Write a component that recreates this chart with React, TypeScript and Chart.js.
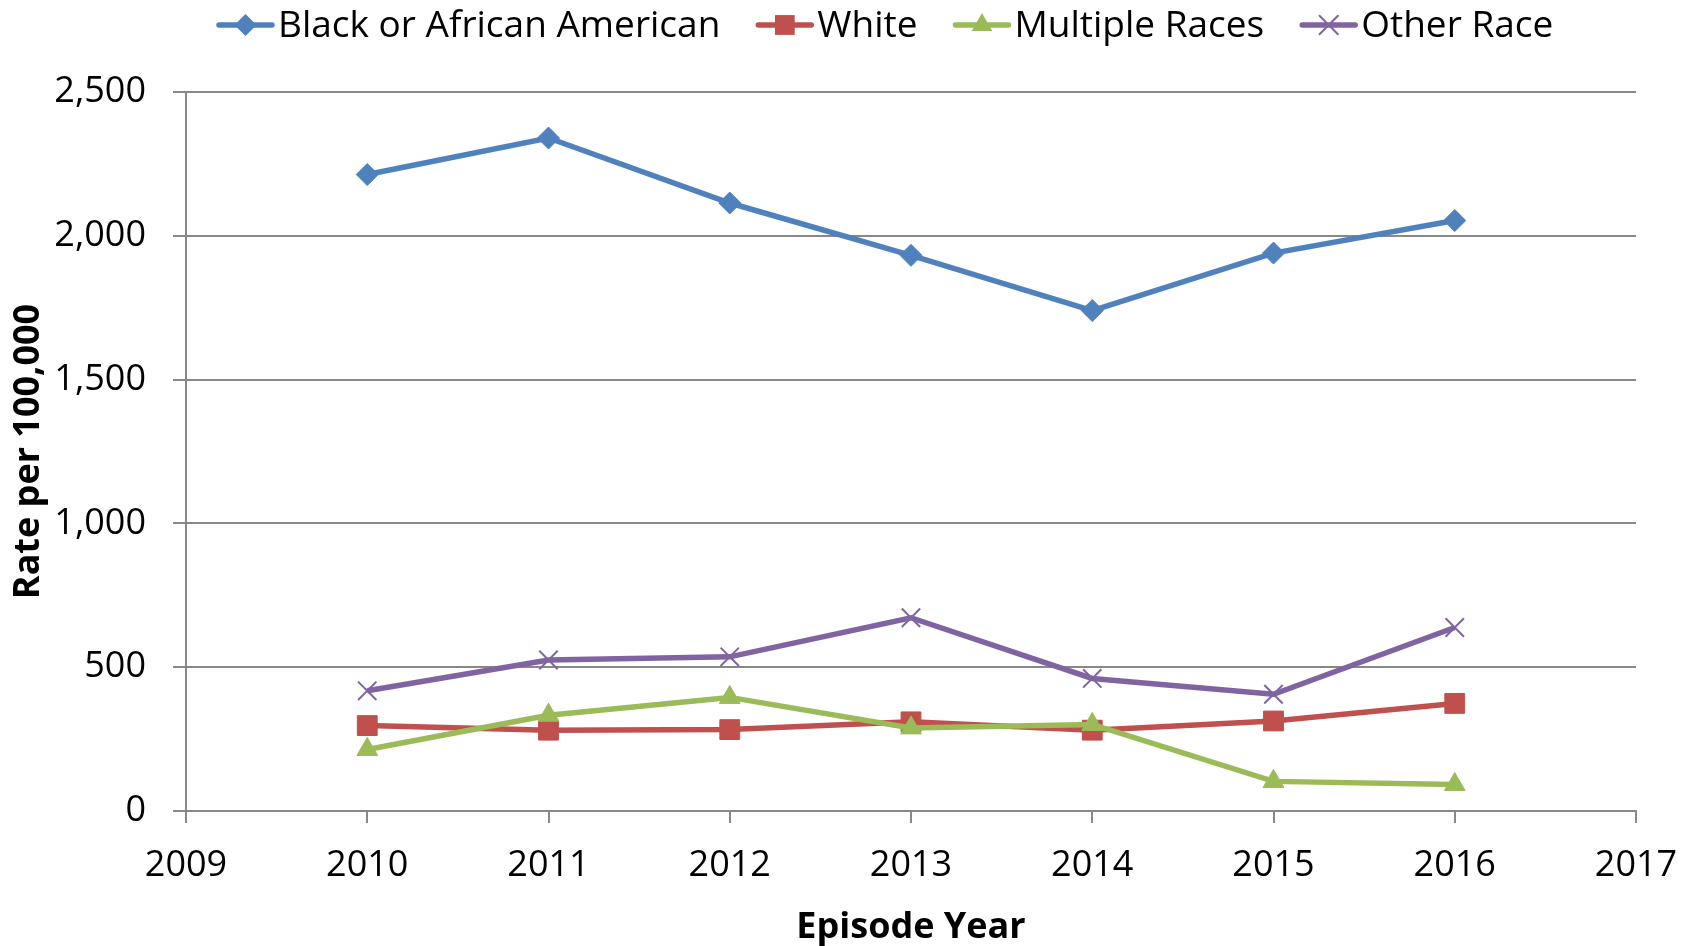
import React, { useEffect, useRef } from 'react';
import { Chart, registerables } from 'chart.js';

Chart.register(...registerables);

const years = [2010, 2011, 2012, 2013, 2014, 2015, 2016];
const seriesNames = ['Black or African American', 'White', 'Multiple Races', 'Other Race'];
const blackValues = [2213, 2340, 2114, 1932, 1740, 1940, 2053];
const whiteValues = [297, 281, 283, 310, 281, 313, 374];
const multipleValues = [214, 333, 395, 289, 301, 103, 92];
const otherValues = [418, 525, 536, 672, 461, 406, 638];
const xTickValues = [2009, 2010, 2011, 2012, 2013, 2014, 2015, 2016, 2017];
const yTickValues = [0, 500, 1000, 1500, 2000, 2500];

const colors = ['#4F81BD', '#C0504D', '#9BBB59', '#8064A2'];
const markers = ['rectRot', 'rect', 'triangle', 'crossRot'];
const markerRadius = [11, 14, 12, 13];

const FONT = "'Open Sans', 'Noto Sans', sans-serif";
const W = 1692;
const H = 946;

function drawMarker(ctx: CanvasRenderingContext2D, style: string, x: number, y: number, r: number, color: string) {
  ctx.save();
  ctx.fillStyle = color;
  ctx.strokeStyle = color;
  ctx.lineWidth = 2;
  ctx.beginPath();
  if (style === 'rectRot') {
    ctx.moveTo(x, y - r);
    ctx.lineTo(x + r, y);
    ctx.lineTo(x, y + r);
    ctx.lineTo(x - r, y);
    ctx.closePath();
    ctx.fill();
  } else if (style === 'rect') {
    const s = Math.SQRT1_2 * r;
    ctx.rect(x - s, y - s, 2 * s, 2 * s);
    ctx.fill();
  } else if (style === 'triangle') {
    const h = r * Math.sqrt(3) / 2;
    ctx.moveTo(x, y - r);
    ctx.lineTo(x + h, y + r / 2);
    ctx.lineTo(x - h, y + r / 2);
    ctx.closePath();
    ctx.fill();
  } else {
    const o = Math.SQRT1_2 * r;
    ctx.moveTo(x - o, y - o);
    ctx.lineTo(x + o, y + o);
    ctx.moveTo(x + o, y - o);
    ctx.lineTo(x - o, y + o);
    ctx.stroke();
  }
  ctx.restore();
}

const legendPlugin = {
  id: 'excelLegend',
  afterDraw(chart: any) {
    const ctx: CanvasRenderingContext2D = chart.ctx;
    ctx.save();
    ctx.font = `37px ${FONT}`;
    ctx.textBaseline = 'middle';
    ctx.textAlign = 'left';
    let x = 219;
    const y = 25;
    seriesNames.forEach((name, i) => {
      ctx.strokeStyle = colors[i];
      ctx.lineWidth = 5.5;
      ctx.lineCap = 'round';
      ctx.beginPath();
      ctx.moveTo(x, y);
      ctx.lineTo(x + 53, y);
      ctx.stroke();
      drawMarker(ctx, markers[i], x + 26.5, y, markerRadius[i], colors[i]);
      ctx.fillStyle = '#000';
      ctx.fillText(name, x + 59, y + 1);
      x += 59 + ctx.measureText(name).width + 38;
    });
    ctx.restore();
  },
};

export default function App() {
  const ref = useRef<HTMLCanvasElement | null>(null);

  useEffect(() => {
    document.body.style.margin = '0';
    if (!ref.current) return;
    const series = [blackValues, whiteValues, multipleValues, otherValues];
    const chart = new Chart(ref.current, {
      type: 'line',
      data: {
        datasets: series.map((vals, i) => ({
          label: seriesNames[i],
          data: years.map((yr, j) => ({ x: yr, y: vals[j] })),
          borderColor: colors[i],
          backgroundColor: colors[i],
          borderWidth: 5.5,
          pointStyle: markers[i] as any,
          pointRadius: markerRadius[i],
          pointBorderWidth: markers[i] === 'crossRot' ? 2 : 1,
          pointBackgroundColor: colors[i],
          pointBorderColor: colors[i],
          tension: 0,
          order: 4 - i,
        })),
      },
      options: {
        responsive: false,
        animation: false,
        layout: { padding: { top: 92, right: 56, left: 0, bottom: 0 } },
        plugins: {
          legend: { display: false },
          tooltip: { enabled: false },
        },
        scales: {
          x: {
            type: 'linear',
            min: 2009,
            max: 2017,
            afterBuildTicks: (scale: any) => {
              scale.ticks = xTickValues.map((v) => ({ value: v }));
            },
            afterFit: (scale: any) => {
              scale.height = H - 811;
              scale.paddingLeft = 0;
              scale.paddingRight = 0;
            },
            ticks: {
              callback: (v: any) => String(v),
              font: { family: FONT, size: 36 },
              color: '#000',
              padding: 21,
              maxRotation: 0,
              autoSkip: false,
            },
            grid: {
              drawOnChartArea: false,
              drawTicks: true,
              tickLength: 12,
              color: '#888888',
              lineWidth: 2,
            },
            border: { color: '#888888', width: 2 },
            title: {
              display: true,
              text: 'Episode Year',
              font: { family: FONT, size: 36, weight: 'bold' },
              color: '#000',
              padding: { top: 0, bottom: -3 },
            },
          },
          y: {
            type: 'linear',
            min: 0,
            max: 2500,
            afterBuildTicks: (scale: any) => {
              scale.ticks = yTickValues.map((v) => ({ value: v }));
            },
            afterFit: (scale: any) => {
              scale.width = 186;
              scale.paddingTop = 0;
              scale.paddingBottom = 0;
            },
            ticks: {
              callback: (v: any) => Number(v).toLocaleString('en-US'),
              font: { family: FONT, size: 36 },
              color: '#000',
              padding: 27,
            },
            grid: {
              drawTicks: true,
              tickLength: 13,
              color: '#888888',
              lineWidth: 2,
            },
            border: { color: '#888888', width: 2 },
            title: {
              display: true,
              text: 'Rate per 100,000',
              font: { family: FONT, size: 36, weight: 'bold' },
              color: '#000',
              padding: { top: 7, bottom: 0 },
            },
          },
        },
      },
      plugins: [legendPlugin],
    });
    return () => chart.destroy();
  }, []);

  return (
    <div style={{ position: 'absolute', left: 0, top: 0, width: W, height: H, background: '#fff' }}>
      <canvas ref={ref} width={W} height={H} style={{ display: 'block' }} />
    </div>
  );
}
